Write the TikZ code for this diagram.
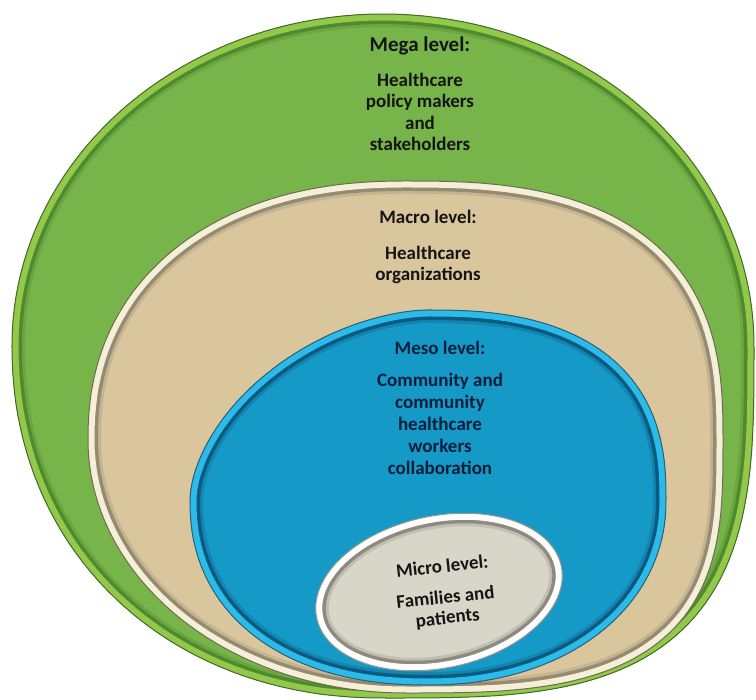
\documentclass[tikz,border=0pt]{standalone}
\usepackage{fontspec}
\setmainfont{Carlito}
\definecolor{gfill}{HTML}{77B44A}
\definecolor{grim}{HTML}{93C84A}
\definecolor{gdark}{HTML}{4F8A2E}
\definecolor{gline}{HTML}{3F6B26}
\definecolor{tfill}{HTML}{D9C69C}
\definecolor{trim}{HTML}{F5EFD8}
\definecolor{tdark}{HTML}{958B73}
\definecolor{tline}{HTML}{6E6A55}
\definecolor{bfill}{HTML}{1599C6}
\definecolor{brim}{HTML}{2BBBEA}
\definecolor{bdark}{HTML}{0C5A7E}
\definecolor{bline}{HTML}{2F5F72}
\definecolor{mfill}{HTML}{D8D5C9}
\definecolor{mrim}{HTML}{FFFFFF}
\definecolor{mdark}{HTML}{8E8A80}
\definecolor{mline}{HTML}{9A968C}
\definecolor{txtc}{HTML}{151515}
\definecolor{navyc}{HTML}{0A1E3C}
\newcommand\bevelshape[5]{%
  \fill[#2] #1;
  \begin{scope}
    \clip #1;
    \draw[#4, line width=26pt, opacity=0.3] #1;
    \draw[#4, line width=20pt] #1;
    \draw[#3, line width=13pt] #1;
  \end{scope}
  \draw[#5, line width=1pt] #1;
}
% quadrant-wise superellipse outlines: right -> top -> left -> bottom
\def\greenpath{plot[domain=0.2:89.8,samples=45,variable=\u] ({383+371*cos(\u)},{345-331*sin(\u)})
 -- plot[domain=0.2:89.8,samples=45,variable=\u] ({383-371*sin(\u)},{345-331*cos(\u)})
 -- plot[domain=0.2:89.8,samples=45,variable=\u] ({383-371*cos(\u)^0.95},{345+353*sin(\u)^0.95})
 -- plot[domain=0.2:89.8,samples=45,variable=\u] ({383+371*sin(\u)^0.62},{345+353*cos(\u)^0.62}) -- cycle}
\def\tanpath{plot[domain=0.2:89.8,samples=45,variable=\u] ({405+318*cos(\u)^0.75},{440-259*sin(\u)^0.75})
 -- plot[domain=0.2:89.8,samples=45,variable=\u] ({405-317*sin(\u)^0.9},{440-259*cos(\u)^0.9})
 -- plot[domain=0.2:89.8,samples=45,variable=\u] ({405-317*cos(\u)},{440+253*sin(\u)})
 -- plot[domain=0.2:89.8,samples=45,variable=\u] ({405+318*sin(\u)^0.65},{440+253*cos(\u)^0.65}) -- cycle}
\def\bluepath{plot[domain=0.2:89.8,samples=45,variable=\u] ({428+238*cos(\u)^0.8},{500-190*sin(\u)^0.8})
 -- plot[domain=0.2:89.8,samples=45,variable=\u] ({428-238*sin(\u)^1.15},{500-190*cos(\u)^1.15})
 -- plot[domain=0.2:89.8,samples=45,variable=\u] ({428-238*cos(\u)^0.9},{500+185*sin(\u)^0.9})
 -- plot[domain=0.2:89.8,samples=45,variable=\u] ({428+238*sin(\u)^0.95},{500+185*cos(\u)^0.95}) -- cycle}
\def\micropath{plot[domain=0:356, samples=90, smooth cycle, variable=\t] ({439+125*cos(\t)*cos(12)+76*sin(\t)*sin(12)},{592-125*cos(\t)*sin(12)+76*sin(\t)*cos(12)})}
\tikzset{lvl/.style={font=\bfseries\fontsize{19}{21.5}\selectfont, align=center, text=txtc, inner sep=0pt}}
\begin{document}
\begin{tikzpicture}[x=1pt, y=-1pt]
\useasboundingbox (0,0) rectangle (756,700);
\fill[white] (0,0) rectangle (756,700);
\bevelshape{\greenpath}{gfill}{grim}{gdark}{gline}
\bevelshape{\tanpath}{tfill}{trim}{tdark}{tline}
\bevelshape{\bluepath}{bfill}{brim}{bdark}{bline}
\bevelshape{\micropath}{mfill}{mrim}{mdark}{mline}
\node[lvl] (mega) at (420,94) {{\fontsize{21}{21.5}\selectfont Mega level:}\\[13pt]Healthcare\\policy makers\\and\\stakeholders};
\node[lvl] (macro) at (428,247) {Macro level:\\[14pt]Healthcare\\organizations};
\node[lvl, text=navyc, font=\bfseries\fontsize{19}{22}\selectfont] (meso) at (440,408) {Meso level:\\[10pt]Community and\\community\\healthcare\\workers\\collaboration};
\node[lvl, rotate=6, font=\bfseries\fontsize{19}{20.5}\selectfont] (micro) at (445,593) {Micro level:\\[10.5pt]Families and\\patients};
\end{tikzpicture}
\end{document}
